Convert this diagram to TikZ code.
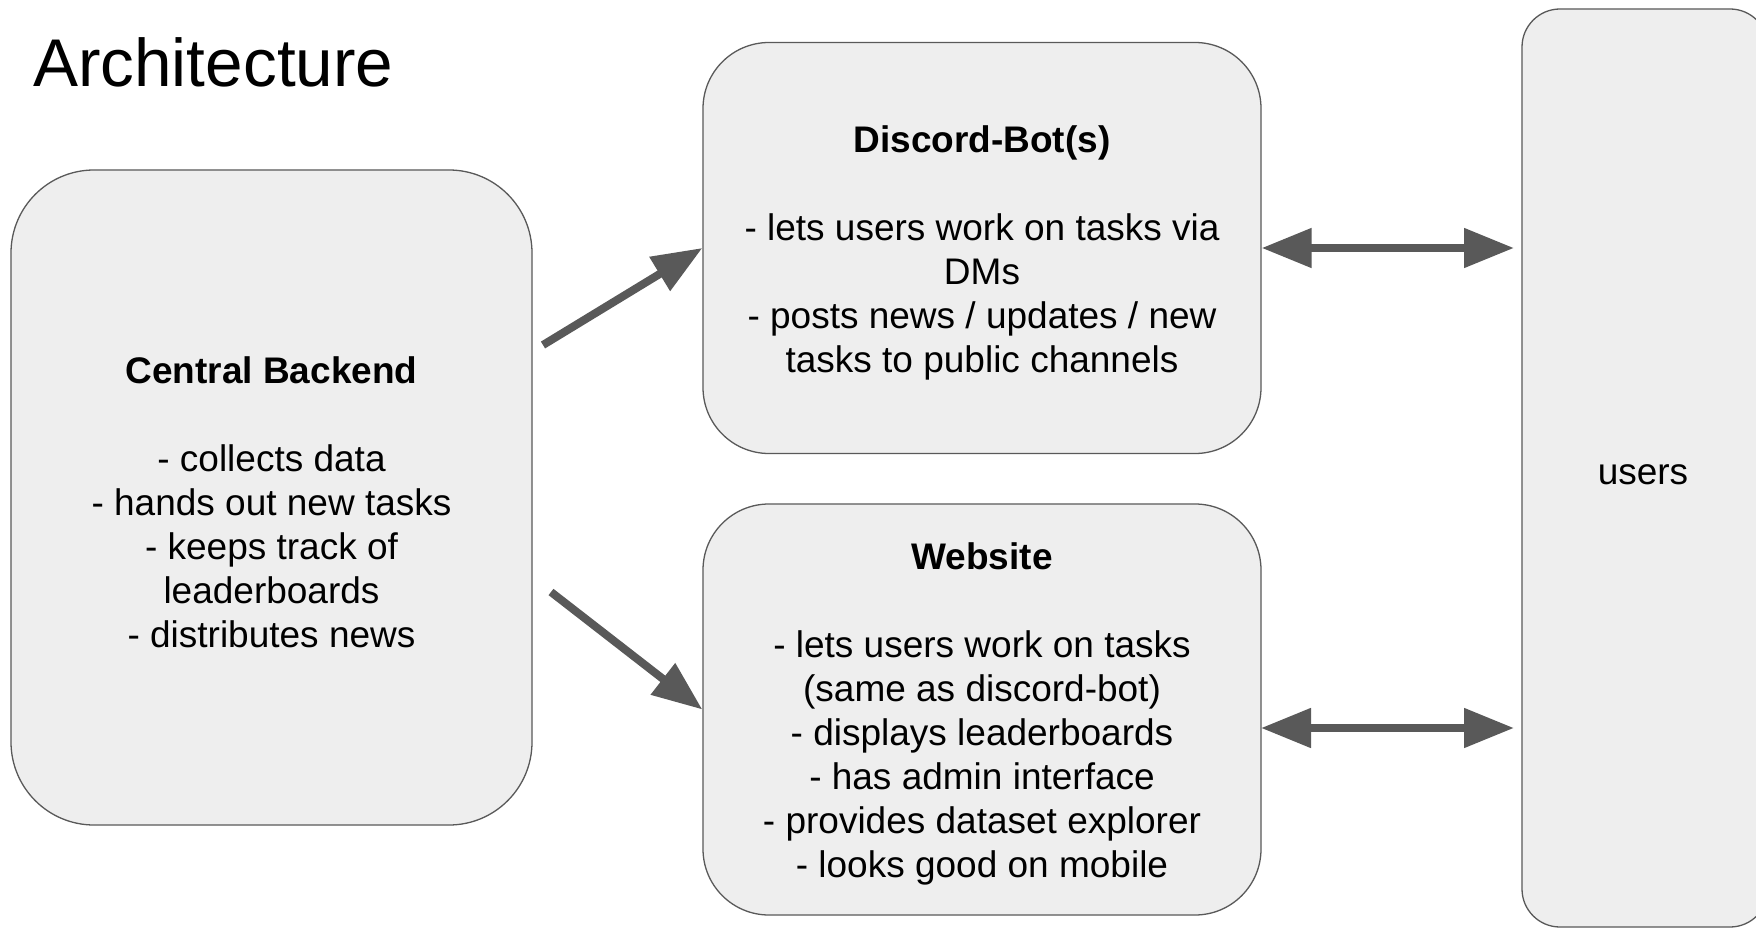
\documentclass[tikz,border=0pt]{standalone}
\usepackage{fontspec}
\setmainfont{Liberation Sans}
\usetikzlibrary{arrows.meta}
\definecolor{boxfill}{HTML}{EEEEEE}
\definecolor{boxline}{HTML}{595959}
\begin{document}
\begin{tikzpicture}[x=1pt,y=-1pt,
  card/.style={draw=boxline, line width=1.3pt, fill=boxfill, rectangle, inner sep=0pt},
  cardtext/.style={align=center, inner sep=0pt, font={\fontsize{37pt}{44pt}\selectfont}},
  flow/.style={draw=boxline, line width=8pt,
    -{Triangle[length=50pt,width=38pt]}},
  bothway/.style={draw=boxline, line width=8pt,
    {Triangle[length=50pt,width=38pt]}-{Triangle[length=50pt,width=38pt]}}]
\useasboundingbox (0,0) rectangle (1756,928);
\clip (0,0) rectangle (1756,928);
\fill[white] (0,0) rectangle (1756,928);

\node[anchor=base west, inner sep=0pt, font={\fontsize{67.5pt}{80pt}\selectfont}] (title) at (33,87) {Architecture};

\node[card, minimum width=521pt, minimum height=655pt, rounded corners=83pt] (cb) at (271.5,497.5) {};
\node[cardtext] (cbtext) at ([yshift=-4.5pt]cb.center)
 {\textbf{Central Backend}\\[44pt]- collects data\\- hands out new tasks\\- keeps track of\\leaderboards\\- distributes news};

\node[card, minimum width=558pt, minimum height=411pt, rounded corners=66pt] (discord) at (982,248) {};
\node[cardtext] (discordtext) at ([yshift=-4.5pt]discord.center)
 {\textbf{Discord-Bot(s)}\\[44pt]- lets users work on tasks via\\DMs\\- posts news / updates / new\\tasks to public channels};

\node[card, minimum width=558pt, minimum height=411pt, rounded corners=66pt] (web) at (982,709.5) {};
\node[cardtext] (webtext) at ([yshift=-4.5pt]web.center)
 {\textbf{Website}\\[44pt]- lets users work on tasks\\(same as discord-bot)\\- displays leaderboards\\- has admin interface\\- provides dataset explorer\\- looks good on mobile};

\node[card, minimum width=246pt, minimum height=918pt, rounded corners=38pt] (users) at (1645,468) {};
\node[cardtext] (userslabel) at (1643,475) {users};

\coordinate (t1) at (543,345);
\coordinate (t2) at (551,592);
\coordinate (w1) at (1261,728);
\coordinate (u1) at (1514,728);
\coordinate (u0) at (1514,248);

\draw[flow] (t1) -- (discord.west);
\draw[flow] (t2) -- (web.west);
\draw[bothway] (discord.east) -- (u0);
\draw[bothway] (w1) -- (u1);
\end{tikzpicture}
\end{document}
